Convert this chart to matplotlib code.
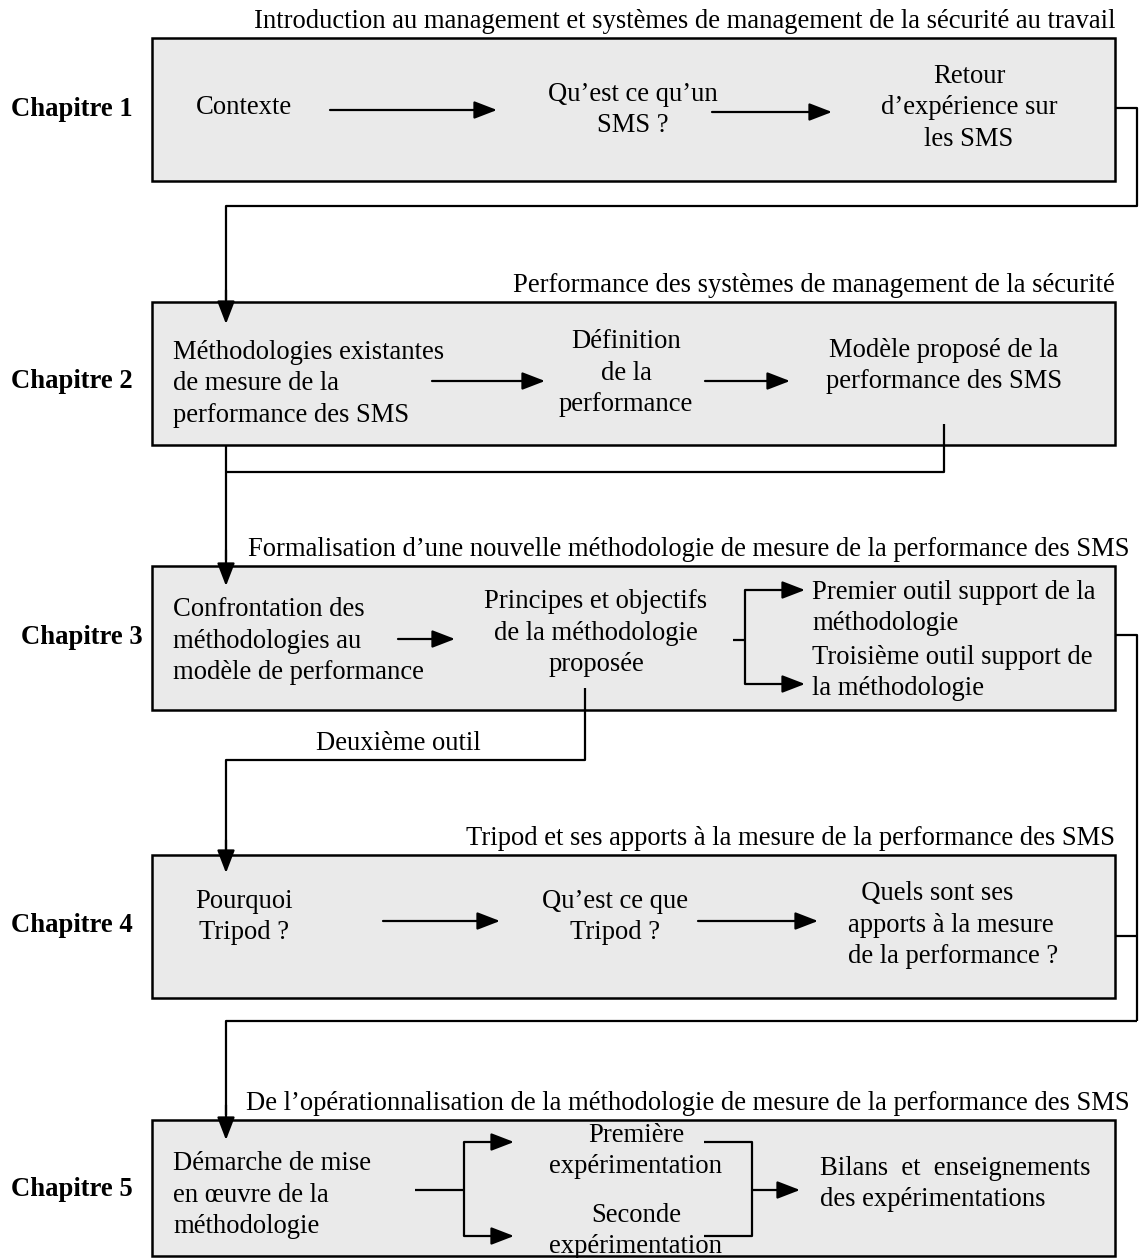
import matplotlib.pyplot as plt
from matplotlib.patches import Rectangle, FancyArrowPatch

plt.rcParams['font.family'] = ['Liberation Serif', 'DejaVu Serif']

W, H = 1139, 1258
FS = 19.2

chapters = ['Chapitre 1', 'Chapitre 2', 'Chapitre 3', 'Chapitre 4', 'Chapitre 5']
titles = [
    'Introduction au management et systèmes de management de la sécurité au travail',
    'Performance des systèmes de management de la sécurité',
    'Formalisation d\u2019une nouvelle méthodologie de mesure de la performance des SMS',
    'Tripod et ses apports à la mesure de la performance des SMS',
    'De l\u2019opérationnalisation de la méthodologie de mesure de la performance des SMS',
]
box_top = [38, 302, 566, 855, 1120]
box_bot = [181, 445, 710, 998, 1256]
label_y = [109, 381, 638, 926, 1190]

fig = plt.figure(figsize=(W / 100, H / 100), dpi=100)
ax = fig.add_axes([0, 0, 1, 1])
ax.set_xlim(0, W)
ax.set_ylim(H, 0)
ax.axis('off')

BX0, BX1 = 152, 1115
RX = 1137   # right-hand return line
LX = 226    # left-hand entry line
LW = 1.6


def txt(x, y, s, ha='center', **kw):
    ax.text(x, y, s, ha=ha, va='center', fontsize=FS, linespacing=1.33, **kw)


def arrow(x0, y0, x1, y1):
    ax.add_patch(FancyArrowPatch((x0, y0), (x1, y1), arrowstyle='-|>,head_length=0.7,head_width=0.27',
                                 mutation_scale=20, color='black', lw=LW, shrinkA=0, shrinkB=0))


def line(xs, ys):
    ax.plot(xs, ys, color='black', lw=LW, solid_capstyle='butt')


for i in range(5):
    ax.add_patch(Rectangle((BX0, box_top[i]), BX1 - BX0, box_bot[i] - box_top[i],
                           facecolor='#eaeaea', edgecolor='black', lw=1.8))
    ax.text(BX1 + (15 if i in (2, 4) else 0), box_top[i] - 4, titles[i], ha='right', va='bottom', fontsize=FS)
    ax.text(72 + (10 if i == 2 else 0), label_y[i], chapters[i], ha='center', va='center',
            fontsize=FS, fontweight='bold')

# chapitre 1
txt(196, 108, 'Contexte', ha='left')
arrow(330, 110, 497, 110)
txt(633, 110, 'Qu\u2019est ce qu\u2019un\nSMS ?')
arrow(712, 112, 832, 112)
txt(969, 108, 'Retour\nd\u2019expérience sur\nles SMS')
line([BX1, RX, RX, LX, LX], [108, 108, 206, 206, 300])
arrow(LX, 290, LX, box_top[1] + 22)

# chapitre 2
txt(173, 384, 'Méthodologies existantes\nde mesure de la\nperformance des SMS', ha='left')
arrow(432, 381, 545, 381)
txt(626, 373, 'Définition\nde la\nperformance')
arrow(705, 381, 790, 381)
txt(944, 366, 'Modèle proposé de la\nperformance des SMS')
line([944, 944, LX], [424, 472, 472])
line([LX, LX], [box_bot[1], 560])
arrow(LX, 550, LX, box_top[2] + 20)

# chapitre 3
txt(173, 641, 'Confrontation des\nméthodologies au\nmodèle de performance', ha='left')
arrow(398, 639, 455, 639)
txt(596, 633, 'Principes et objectifs\nde la méthodologie\nproposée')
line([733, 745], [640, 640])
line([745, 745], [590, 684])
arrow(745, 590, 805, 590)
arrow(745, 684, 805, 684)
txt(812, 608, 'Premier outil support de la\nméthodologie', ha='left')
txt(812, 673, 'Troisième outil support de\nla méthodologie', ha='left')
txt(398, 743, 'Deuxième outil')
line([585, 585, LX, LX], [688, 760, 760, 850])
arrow(LX, 840, LX, box_top[3] + 18)
line([BX1, RX, RX], [635, 635, 1021])

# chapitre 4
txt(244, 917, 'Pourquoi\nTripod ?')
arrow(383, 921, 500, 921)
txt(615, 917, 'Qu\u2019est ce que\nTripod ?')
arrow(698, 921, 818, 921)
txt(848, 925, '  Quels sont ses\napports à la mesure\nde la performance ?', ha='left')
line([BX1, RX], [936, 936])
line([RX, LX, LX], [1021, 1021, 1115])
arrow(LX, 1105, LX, box_top[4] + 20)

# chapitre 5
txt(173, 1195, 'Démarche de mise\nen \u0153uvre de la\nméthodologie', ha='left')
line([415, 464], [1190, 1190])
line([464, 464], [1142, 1236])
arrow(464, 1142, 514, 1142)
arrow(464, 1236, 514, 1236)
txt(636, 1151, 'Première\nexpérimentation')
txt(636, 1231, 'Seconde\nexpérimentation')
line([704, 752, 752, 704], [1142, 1142, 1236, 1236])
arrow(752, 1190, 800, 1190)
txt(820, 1184, 'Bilans  et  enseignements\ndes expérimentations', ha='left')

fig.savefig('out.png', dpi=100, facecolor='white')
